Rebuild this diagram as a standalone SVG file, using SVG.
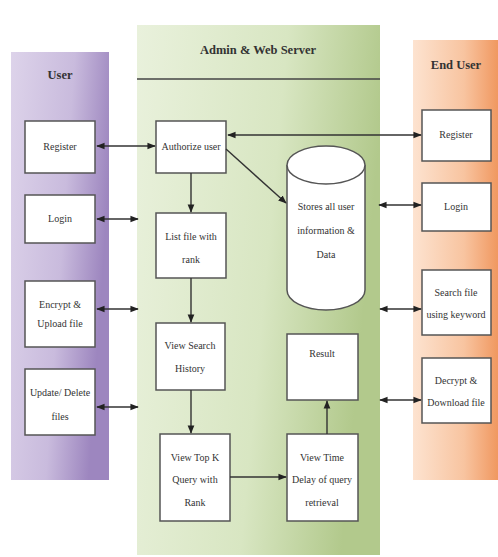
<svg xmlns="http://www.w3.org/2000/svg" width="498" height="557" viewBox="0 0 498 557">
<defs>
<linearGradient id="gU" x1="0" y1="0" x2="1" y2="0.3"><stop offset="0" stop-color="#ddd3ea"/><stop offset="0.6" stop-color="#c9bbdd"/><stop offset="1" stop-color="#9d86bf"/></linearGradient>
<linearGradient id="gA" x1="0" y1="0" x2="1" y2="0.2"><stop offset="0" stop-color="#e9f1dc"/><stop offset="0.6" stop-color="#d8e6c2"/><stop offset="1" stop-color="#b2c98c"/></linearGradient>
<linearGradient id="gE" x1="0" y1="0" x2="1" y2="0"><stop offset="0" stop-color="#fde3d0"/><stop offset="0.6" stop-color="#f8c4a0"/><stop offset="1" stop-color="#f09860"/></linearGradient>
<marker id="ah" viewBox="0 0 10 10" refX="9" refY="5" markerWidth="6" markerHeight="6" orient="auto-start-reverse"><path d="M0,1 L10,5 L0,9 z" fill="#222"/></marker>
</defs>
<style>
.box{fill:#fff;stroke:#555;stroke-width:1.5}
text{font-family:"Liberation Serif","Times New Roman","DejaVu Serif",serif}
.t{font-size:10px;fill:#333;text-anchor:middle}
.h{font-size:12.5px;font-weight:bold;fill:#333;text-anchor:middle}
.c line,.c path{stroke:#333;stroke-width:1.4;fill:none}
.b{marker-start:url(#ah);marker-end:url(#ah)}
.e{marker-end:url(#ah)}
</style>
<rect width="498" height="557" fill="#fff"/>
<g id="panel-user"><rect x="11" y="52" width="98" height="428" fill="url(#gU)"/><text class="h" x="60" y="79">User</text></g>
<g id="panel-admin"><rect x="137" y="25" width="243" height="530" fill="url(#gA)"/><text class="h" x="258" y="54">Admin &amp; Web Server</text><line x1="137" y1="79" x2="380" y2="79" stroke="#444" stroke-width="1.5"/></g>
<g id="panel-enduser"><rect x="413" y="40" width="85" height="440" fill="url(#gE)"/><text class="h" x="456" y="69">End User</text></g>

<g id="u-register"><rect class="box" x="25" y="121" width="70" height="52"/><text class="t" x="60" y="150">Register</text></g>
<g id="u-login"><rect class="box" x="25" y="195" width="70" height="48"/><text class="t" x="60" y="222">Login</text></g>
<g id="u-encrypt"><rect class="box" x="25" y="281" width="70" height="66"/><text class="t" x="60" y="308">Encrypt &amp;</text><text class="t" x="60" y="327">Upload file</text></g>
<g id="u-update"><rect class="box" x="25" y="369" width="70" height="66"/><text class="t" x="60" y="396">Update/ Delete</text><text class="t" x="60" y="420">files</text></g>

<g id="a-authorize"><rect class="box" x="156" y="121" width="70" height="52"/><text class="t" x="191" y="150">Authorize user</text></g>
<g id="a-list"><rect class="box" x="156" y="213" width="70" height="65"/><text class="t" x="191" y="240">List file with</text><text class="t" x="191" y="263">rank</text></g>
<g id="a-history"><rect class="box" x="156" y="323" width="69" height="67"/><text class="t" x="190" y="349">View Search</text><text class="t" x="190" y="372">History</text></g>
<g id="a-topk"><rect class="box" x="160" y="434" width="70" height="87"/><text class="t" x="195" y="461">View Top K</text><text class="t" x="195" y="483">Query with</text><text class="t" x="195" y="506">Rank</text></g>
<g id="a-store"><path d="M287,165 L287,290 A39,20 0 0 0 365,290 L365,165" fill="#fff" stroke="#555" stroke-width="1.5"/><ellipse cx="326" cy="165" rx="39" ry="19" fill="#fff" stroke="#555" stroke-width="1.5"/><text class="t" x="326" y="210">Stores all user</text><text class="t" x="326" y="234">information &amp;</text><text class="t" x="326" y="258">Data</text></g>
<g id="a-result"><rect class="box" x="287" y="334" width="71" height="66"/><text class="t" x="322" y="357">Result</text></g>
<g id="a-delay"><rect class="box" x="287" y="434" width="71" height="87"/><text class="t" x="322" y="461">View Time</text><text class="t" x="322" y="483">Delay of query</text><text class="t" x="322" y="506">retrieval</text></g>

<g id="e-register"><rect class="box" x="422" y="110" width="69" height="51"/><text class="t" x="456" y="138">Register</text></g>
<g id="e-login"><rect class="box" x="422" y="183" width="69" height="48"/><text class="t" x="456" y="210">Login</text></g>
<g id="e-search"><rect class="box" x="422" y="270" width="69" height="65"/><text class="t" x="456" y="296">Search file</text><text class="t" x="456" y="318">using keyword</text></g>
<g id="e-decrypt"><rect class="box" x="422" y="358" width="69" height="65"/><text class="t" x="456" y="384">Decrypt &amp;</text><text class="t" x="456" y="406">Download file</text></g>

<g id="connectors" class="c">
<line class="b" x1="97" y1="146" x2="155" y2="146"/>
<line class="b" x1="97" y1="219" x2="138" y2="219"/>
<line class="b" x1="97" y1="309" x2="138" y2="309"/>
<line class="b" x1="97" y1="407" x2="138" y2="407"/>
<line class="b" x1="228" y1="135" x2="421" y2="135"/>
<line class="e" x1="226" y1="149" x2="286" y2="203"/>
<line class="b" x1="379" y1="205" x2="421" y2="205"/>
<line class="b" x1="380" y1="309" x2="421" y2="309"/>
<line class="b" x1="380" y1="400" x2="421" y2="400"/>
<line class="e" x1="191" y1="173" x2="191" y2="212"/>
<line class="e" x1="191" y1="278" x2="191" y2="322"/>
<line class="e" x1="191" y1="390" x2="191" y2="433"/>
<line class="e" x1="230" y1="477" x2="286" y2="477"/>
<line class="e" x1="327" y1="434" x2="327" y2="401"/>
</g>
</svg>
